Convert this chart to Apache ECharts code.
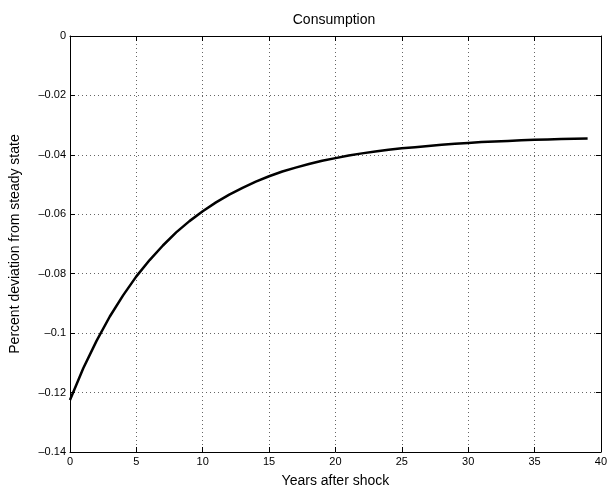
<!DOCTYPE html>
<html>
<head>
<meta charset="utf-8">
<script src="https://cdn.jsdelivr.net/npm/echarts@6/dist/echarts.min.js"></script>
<style>
  html, body { margin: 0; padding: 0; background: #fff; }
  #chart { width: 610px; height: 493px; }
</style>
</head>
<body>
<div id="chart"></div>
<script>
// Impulse response of consumption, in years after the shock
const years = [];
for (let t = 0; t <= 39; t++) years.push(t);
const consumption = [
  -0.1225, -0.1118, -0.1026, -0.0944, -0.0873, -0.0809, -0.0754, -0.0705,
  -0.0661, -0.0623, -0.0590, -0.0560, -0.0534, -0.0511, -0.0490, -0.0472,
  -0.0456, -0.0443, -0.0431, -0.0420, -0.0411, -0.0402, -0.0395, -0.0389,
  -0.0383, -0.0378, -0.0374, -0.0370, -0.0366, -0.0363, -0.0360, -0.0357,
  -0.0355, -0.0353, -0.0351, -0.0349, -0.0348, -0.0347, -0.0346, -0.0345
];
const xTicks = { min: 0, max: 40, step: 5 };
const yTicks = { min: -0.14, max: 0, step: 0.02 };

const FONT = '"Liberation Sans", Arial, Helvetica, sans-serif';
const fmtY = v => {
  const r = Math.round(v * 100) / 100;
  if (r === 0) return '0';
  return '\u2013' + String(Math.abs(r));
};

const gridLine = { show: true, lineStyle: { color: '#666', width: 1, type: [1, 3] } };
const frame = { show: true, onZero: false, lineStyle: { color: '#000', width: 1 } };
const innerTick = { show: true, inside: true, length: 5, lineStyle: { color: '#000' } };

const chart = echarts.init(document.getElementById('chart'), null, { renderer: 'canvas' });
chart.setOption({
  animation: false,
  backgroundColor: '#fff',
  grid: { left: 67.5, right: 9, top: 36, bottom: 37, containLabel: false },
  graphic: [{
    type: 'text', x: 334, y: 20,
    style: { text: 'Consumption', font: '14px ' + FONT, fill: '#000', textAlign: 'center', textVerticalAlign: 'middle' }
  }],
  xAxis: [{
    type: 'value', min: xTicks.min, max: xTicks.max, interval: xTicks.step,
    axisLine: frame, axisTick: innerTick, splitLine: gridLine,
    axisLabel: { color: '#000', fontFamily: FONT, fontSize: 11, margin: 4 },
    name: 'Years after shock', nameLocation: 'middle', nameGap: 22,
    nameTextStyle: { color: '#000', fontFamily: FONT, fontSize: 14 }
  }, {
    type: 'value', position: 'top', min: xTicks.min, max: xTicks.max, interval: xTicks.step,
    axisLine: frame, axisTick: innerTick, splitLine: { show: false }, axisLabel: { show: false }
  }],
  yAxis: [{
    type: 'value', min: yTicks.min, max: yTicks.max, interval: yTicks.step,
    axisLine: frame, axisTick: innerTick, splitLine: gridLine,
    axisLabel: { color: '#000', fontFamily: FONT, fontSize: 11, margin: 4, formatter: fmtY },
    name: 'Percent deviation from steady state', nameLocation: 'middle', nameGap: 48,
    nameTextStyle: { color: '#000', fontFamily: FONT, fontSize: 14 }
  }, {
    type: 'value', position: 'right', min: yTicks.min, max: yTicks.max, interval: yTicks.step,
    axisLine: frame, axisTick: innerTick, splitLine: { show: false }, axisLabel: { show: false }
  }],
  series: [{
    type: 'line',
    data: years.map((t, i) => [t, consumption[i]]),
    showSymbol: false,
    smooth: false,
    lineStyle: { color: '#000', width: 2.5 },
    z: 5
  }]
});
</script>
</body>
</html>
